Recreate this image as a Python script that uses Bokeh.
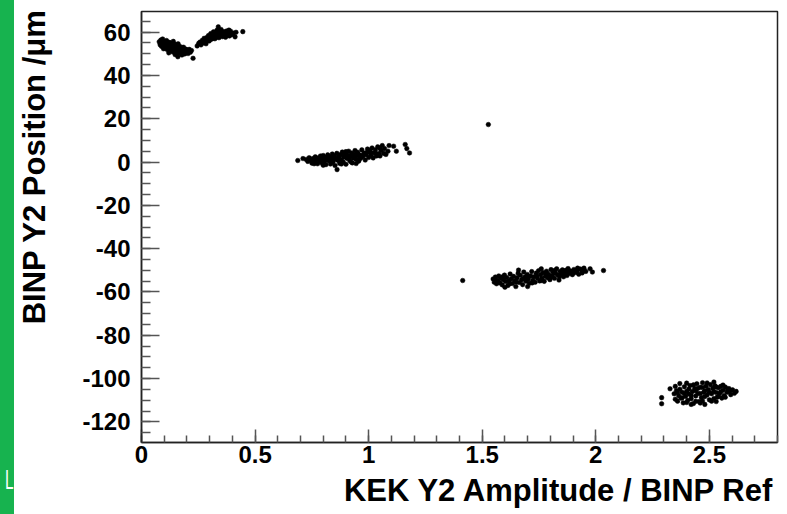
import numpy as np
from bokeh.plotting import figure
from bokeh.models import FixedTicker, Title, Div, Range1d
from bokeh.layouts import row
from bokeh.embed import file_html
from bokeh.resources import INLINE

# ---- data ----
c1_x = [0.078, 0.082, 0.085, 0.088, 0.090, 0.093, 0.095, 0.098, 0.100, 0.102, 0.105, 0.107, 0.110, 0.112, 0.114,
        0.117, 0.119, 0.121, 0.124, 0.126, 0.128, 0.131, 0.133, 0.135, 0.138, 0.140, 0.142, 0.145, 0.147, 0.149,
        0.152, 0.154, 0.156, 0.159, 0.161, 0.163, 0.166, 0.168, 0.171, 0.173, 0.176, 0.178, 0.181, 0.184, 0.187,
        0.190, 0.193, 0.197, 0.201, 0.205, 0.210, 0.215, 0.220, 0.227, 0.160, 0.120, 0.097,
        0.085, 0.092, 0.101, 0.109, 0.116, 0.123, 0.130, 0.137, 0.144, 0.151, 0.158, 0.165, 0.172, 0.180, 0.188,
        0.196, 0.185, 0.148]
c1_y = [55.5, 54.2, 56.3, 53.4, 55.0, 56.8, 54.1, 52.9, 55.6, 53.8, 54.7, 52.4, 56.1, 53.2, 51.9,
        54.4, 55.3, 52.7, 53.9, 51.5, 55.0, 52.2, 54.1, 50.9, 53.3, 55.7, 51.8, 52.9, 50.3, 54.2,
        51.4, 53.0, 49.7, 52.3, 54.6, 50.8, 51.9, 53.4, 50.2, 52.5, 51.1, 49.4, 52.8, 50.6, 51.7,
        49.9, 52.2, 50.9, 51.6, 50.1, 52.0, 50.7, 51.5, 47.9, 48.6, 50.4, 52.3,
        54.9, 53.6, 54.3, 55.2, 52.9, 55.1, 53.6, 51.9, 54.4, 52.1, 53.8, 52.6, 51.4, 51.0, 50.5,
        51.9, 53.0, 49.6]

c2_x = [0.245, 0.252, 0.258, 0.262, 0.268, 0.272, 0.276, 0.280, 0.284, 0.288, 0.291, 0.295, 0.298, 0.302, 0.305,
        0.308, 0.311, 0.314, 0.317, 0.320, 0.323, 0.326, 0.329, 0.332, 0.335, 0.338, 0.341, 0.344, 0.347, 0.350,
        0.353, 0.356, 0.359, 0.362, 0.366, 0.370, 0.374, 0.378, 0.382, 0.387, 0.392, 0.398, 0.404, 0.412, 0.416,
        0.446, 0.300, 0.315, 0.330, 0.345, 0.360, 0.372, 0.385, 0.395, 0.340, 0.325]
c2_y = [53.6, 54.8, 55.4, 54.1, 56.2, 55.0, 57.1, 55.8, 54.6, 57.5, 56.3, 58.4, 55.9, 57.8, 59.3,
        56.7, 58.6, 57.2, 60.1, 58.0, 56.9, 59.4, 57.7, 60.8, 58.7, 62.4, 57.4, 59.6, 58.3, 61.2,
        59.0, 57.9, 60.3, 58.6, 59.7, 57.6, 60.5, 58.9, 59.9, 58.2, 60.4, 58.8, 59.5, 57.8, 59.9,
        60.2, 56.6, 58.9, 59.1, 60.6, 59.2, 59.0, 60.9, 59.1, 58.5, 57.4]

c3_x = [0.688, 0.711, 0.725, 0.732, 0.738, 0.744, 0.750, 0.755, 0.760, 0.765, 0.770, 0.775, 0.780, 0.784, 0.788,
        0.792, 0.796, 0.800, 0.804, 0.808, 0.812, 0.816, 0.820, 0.824, 0.828, 0.832, 0.836, 0.840, 0.844, 0.848,
        0.852, 0.856, 0.860, 0.861, 0.864, 0.868, 0.872, 0.876, 0.880, 0.884, 0.888, 0.892, 0.896, 0.900, 0.904,
        0.908, 0.912, 0.916, 0.920, 0.924, 0.928, 0.932, 0.936, 0.940, 0.944, 0.948, 0.952, 0.956, 0.960, 0.965,
        0.970, 0.975, 0.980, 0.985, 0.990, 0.995, 1.000, 1.005, 1.010, 1.015, 1.020, 1.025, 1.030, 1.035, 1.040,
        1.045, 1.050, 1.055, 1.060, 1.066, 1.070, 1.076, 1.110, 1.122, 1.161, 1.168, 1.180,
        0.790, 0.810, 0.830, 0.850, 0.870, 0.890, 0.910, 0.930, 0.950, 0.970, 0.990, 1.010, 1.030, 0.880, 0.920,
        0.960, 0.840, 0.900, 0.945, 1.000, 1.050, 1.085, 1.090, 0.760, 0.800]
c3_y = [0.7, 1.6, 1.2, 0.3, 2.0, 0.8, -0.5, 1.6, 0.2, 2.4, 1.0, -0.8, 1.9, 0.5, 2.8,
        -0.3, 1.4, 3.0, 0.1, 2.2, -1.2, 1.1, 3.3, 0.6, 2.5, -0.9, 1.8, 3.7, 0.3, 2.9,
        -1.6, 1.5, 4.0, -3.5, 0.8, 2.6, -0.6, 3.4, 1.2, 4.6, 0.0, 2.3, 3.9, -1.0, 1.7,
        3.1, 5.0, 0.9, 2.6, 4.2, -0.4, 1.9, 3.6, 5.3, 1.3, 2.9, 4.5, 0.4, 3.2, 1.8,
        5.6, 2.5, 4.1, 0.9, 3.4, 6.0, 2.1, 4.8, 3.0, 6.5, 1.9, 4.3, 5.7, 2.8, 7.0,
        3.9, 2.8, 5.3, 7.6, 4.0, 6.2, 3.5, 7.3, 5.0, 8.1, 6.2, 4.2,
        1.2, 1.5, 1.3, 2.0, 1.6, 3.0, 2.2, 3.0, 3.6, 3.0, 4.3, 4.4, 4.0, -0.9, 0.2,
        1.5, -0.2, 4.8, -0.7, 5.4, 6.4, 5.0, 7.6, -0.8, -1.5]

c4_x = [1.527]
c4_y = [17.3]

c5_x = [1.414, 1.548, 1.553, 1.558, 1.563, 1.568, 1.573, 1.578, 1.583, 1.588, 1.593, 1.598, 1.603, 1.608, 1.613,
        1.618, 1.623, 1.628, 1.633, 1.638, 1.643, 1.648, 1.653, 1.658, 1.663, 1.668, 1.673, 1.678, 1.683, 1.688,
        1.693, 1.698, 1.703, 1.708, 1.713, 1.718, 1.723, 1.728, 1.733, 1.738, 1.743, 1.748, 1.753, 1.758, 1.763,
        1.768, 1.773, 1.778, 1.783, 1.788, 1.793, 1.798, 1.803, 1.808, 1.813, 1.818, 1.823, 1.828, 1.833, 1.838,
        1.843, 1.848, 1.853, 1.858, 1.863, 1.868, 1.873, 1.878, 1.883, 1.890, 1.897, 1.904, 1.911, 1.918, 1.925,
        1.932, 1.940, 1.948, 1.956, 2.034,
        1.560, 1.590, 1.620, 1.650, 1.680, 1.700, 1.720, 1.740, 1.760, 1.780, 1.800, 1.820, 1.840, 1.860, 1.880,
        1.900, 1.920, 1.940, 1.600, 1.700, 1.660, 1.760, 1.975, 1.985]
c5_y = [-54.7, -54.0, -55.5, -53.1, -56.2, -54.6, -52.6, -55.8, -53.7, -56.7, -54.3, -52.2, -55.2, -53.3, -57.0,
        -54.8, -51.7, -53.9, -56.1, -52.8, -54.9, -57.5, -53.5, -51.4, -55.6, -52.3, -54.4, -56.6, -50.8, -53.1,
        -55.0, -51.9, -54.0, -56.0, -52.6, -50.6, -54.6, -53.0, -55.5, -51.3, -53.6, -50.2, -54.9, -52.1, -53.8,
        -51.0, -55.1, -52.7, -50.4, -53.4, -51.8, -54.3, -49.7, -52.5, -50.9, -53.7, -51.4, -49.3, -52.2, -54.5,
        -50.6, -51.9, -49.8, -53.0, -51.2, -50.0, -52.4, -49.2, -51.5, -50.3, -52.0, -49.6, -51.0, -50.2, -51.8,
        -49.4, -50.7, -49.0, -50.5, -50.1,
        -55.0, -53.0, -56.3, -55.4, -53.9, -52.9, -55.8, -52.4, -54.7, -51.5, -53.1, -50.0, -52.9, -50.8, -50.6,
        -51.3, -49.0, -51.2, -57.8, -57.5, -49.9, -49.3, -49.3, -50.8]

c6_x = [2.290, 2.290, 2.327, 2.345, 2.350, 2.355, 2.360, 2.365, 2.370, 2.375, 2.380, 2.385, 2.390, 2.395, 2.400,
        2.405, 2.410, 2.415, 2.420, 2.425, 2.430, 2.435, 2.440, 2.445, 2.450, 2.455, 2.460, 2.465, 2.470, 2.475,
        2.480, 2.485, 2.490, 2.495, 2.500, 2.505, 2.510, 2.515, 2.520, 2.525, 2.530, 2.535, 2.540, 2.545, 2.550,
        2.555, 2.560, 2.565, 2.570, 2.578, 2.586, 2.594, 2.602, 2.610, 2.618, 2.400, 2.470, 2.520,
        2.360, 2.370, 2.380, 2.390, 2.400, 2.410, 2.420, 2.430, 2.440, 2.450, 2.460, 2.470, 2.480, 2.490, 2.500,
        2.510, 2.520, 2.530, 2.540, 2.550, 2.560, 2.570, 2.580, 2.590, 2.440, 2.480, 2.460, 2.350, 2.420, 2.530]
c6_y = [-108.8, -111.6, -104.7, -107.0, -109.5, -105.6, -110.4, -107.9, -104.9, -109.0, -106.3, -111.2, -103.8, -108.2, -105.9,
        -110.0, -107.1, -103.2, -109.3, -106.0, -111.5, -104.6, -108.0, -102.4, -106.9, -110.6, -104.0, -108.7, -101.9, -106.3,
        -111.9, -103.5, -107.6, -105.0, -109.8, -102.8, -107.0, -104.5, -109.2, -103.3, -106.4, -108.5, -104.2, -106.9, -103.6,
        -109.0, -105.4, -107.8, -103.9, -106.3, -104.6, -107.4, -105.2, -106.8, -105.9, -111.0, -110.3, -101.6,
        -106.5, -102.3, -108.9, -106.9, -102.1, -104.8, -107.8, -102.9, -110.5, -104.5, -106.9, -104.1, -108.3, -102.0, -106.3,
        -110.4, -106.0, -103.9, -108.3, -106.1, -103.0, -108.6, -104.9, -105.8, -105.6, -105.7, -111.3, -103.6, -111.9, -110.6]

x_ticks = [0, 0.5, 1, 1.5, 2, 2.5]
x_tick_labels = ["0", "0.5", "1", "1.5", "2", "2.5"]
y_ticks = [-120, -100, -80, -60, -40, -20, 0, 20, 40, 60]
y_tick_labels = ["-120", "-100", "-80", "-60", "-40", "-20", "0", "20", "40", "60"]

x_title = "KEK Y2 Amplitude / BINP Ref"
y_title = "BINP Y2 Position /\u03bcm"

xs = c1_x + c2_x + c3_x + c4_x + c5_x + c6_x
ys = c1_y + c2_y + c3_y + c4_y + c5_y + c6_y

FONT = "Liberation Sans"

p = figure(frame_width=636, frame_height=431,
           x_range=Range1d(0, 2.8), y_range=Range1d(-129.5, 69.5),
           output_backend="svg", toolbar_location=None,
           min_border_left=127, min_border_right=10, min_border_top=11, min_border_bottom=72)

p.scatter(xs, ys, size=4.6, marker="circle", fill_color="black", line_color="black", line_width=0.5)

p.grid.visible = False
p.background_fill_color = "white"
p.border_fill_color = "white"
p.outline_line_color = "#222222"
p.outline_line_width = 1.5

p.xaxis.ticker = FixedTicker(ticks=x_ticks, minor_ticks=[round(v, 2) for v in np.arange(0, 2.81, 0.1)])
p.yaxis.ticker = FixedTicker(ticks=y_ticks, minor_ticks=list(range(-125, 70, 5)))
p.xaxis.major_label_overrides = {t: l for t, l in zip(x_ticks, x_tick_labels)}
p.yaxis.major_label_overrides = {t: l for t, l in zip(y_ticks, y_tick_labels)}

for ax in (p.xaxis[0], p.yaxis[0]):
    ax.axis_line_color = "#222222"
    ax.axis_line_width = 1.5
    ax.major_tick_line_color = "#555555"
    ax.minor_tick_line_color = "#555555"
    ax.major_tick_line_width = 1.5
    ax.minor_tick_line_width = 1.5
    ax.major_tick_out = 0
    ax.minor_tick_out = 0
    ax.major_label_text_font = FONT
    ax.major_label_text_font_style = "bold"
    ax.major_label_text_font_size = "24px"
    ax.major_label_text_color = "black"

p.yaxis.major_tick_in = 18
p.yaxis.minor_tick_in = 9
p.xaxis.major_tick_in = 13
p.xaxis.minor_tick_in = 7
p.yaxis.major_label_standoff = 11
p.xaxis.major_label_standoff = 3

# the title sits toward the top of the axis (ROOT style): leading no-break
# spaces move the visible text up from the axis centre
yax = p.yaxis[0]
yax.axis_label = "\u00a0" * 14 + y_title
yax.axis_label_standoff = 27
yax.axis_label_text_font = FONT
yax.axis_label_text_font_style = "bold"
yax.axis_label_text_font_size = "31px"
yax.axis_label_text_color = "black"

p.add_layout(Title(text=x_title, align="right", text_font=FONT, text_font_style="bold",
                   text_font_size="31px", text_color="black", standoff=10, offset=3), "below")

strip = Div(width=14, height=514,
            text='<span style="position:absolute;left:5px;top:466px;color:white;font-size:28px;'
                 'line-height:28px;font-family:Liberation Sans;display:inline-block;'
                 'transform:scaleX(0.55);transform-origin:left top;">L</span>',
            styles={"background-color": "#17b34f", "position": "relative", "overflow": "hidden",
                    "margin": "0", "padding": "0"})

layout = row(strip, p, spacing=0)

open("out.html", "w").write(file_html(layout, INLINE))
